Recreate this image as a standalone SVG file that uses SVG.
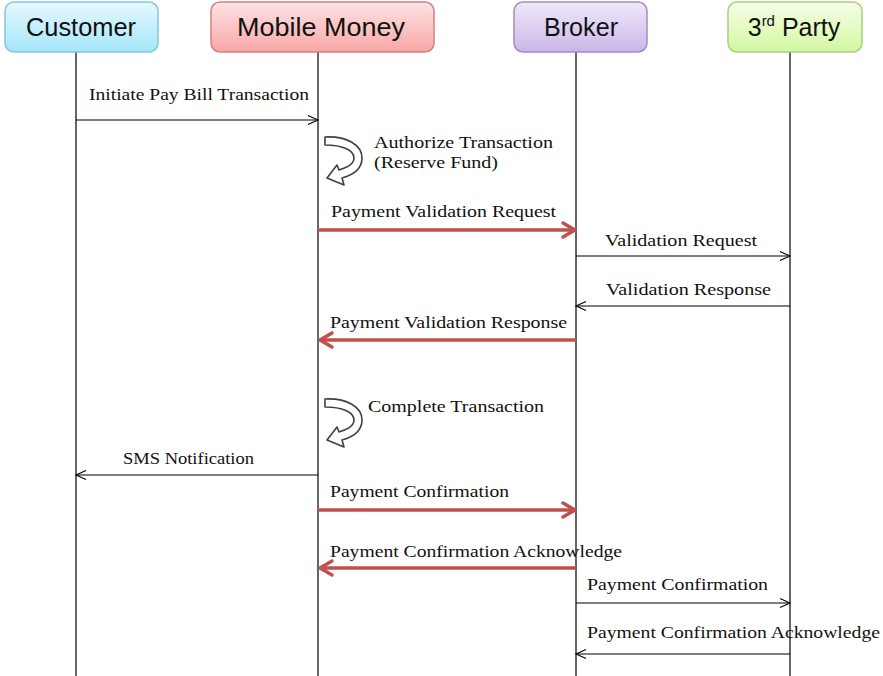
<svg xmlns="http://www.w3.org/2000/svg" width="883" height="676" viewBox="0 0 883 676">
<defs>
<linearGradient id="gC" x1="0" y1="0" x2="0" y2="1"><stop offset="0" stop-color="#e4f9ff"/><stop offset="1" stop-color="#a6e6fb"/></linearGradient>
<linearGradient id="gM" x1="0" y1="0" x2="0" y2="1"><stop offset="0" stop-color="#ffe4e4"/><stop offset="1" stop-color="#f8a6a6"/></linearGradient>
<linearGradient id="gB" x1="0" y1="0" x2="0" y2="1"><stop offset="0" stop-color="#f0e9fa"/><stop offset="1" stop-color="#cbb6e8"/></linearGradient>
<linearGradient id="gP" x1="0" y1="0" x2="0" y2="1"><stop offset="0" stop-color="#f6ffe6"/><stop offset="1" stop-color="#d4f6a2"/></linearGradient>
<marker id="ab" markerUnits="userSpaceOnUse" markerWidth="14" markerHeight="12" refX="11" refY="6" orient="auto" overflow="visible">
<path d="M1,1.5 L11,6 L1,10.5" fill="none" stroke="#000" stroke-width="1.1"/>
</marker>
<marker id="ar" markerUnits="userSpaceOnUse" markerWidth="20" markerHeight="20" refX="14" refY="9" orient="auto" overflow="visible">
<path d="M2,2 L14,9 L2,16" fill="none" stroke="#c0504d" stroke-width="3.5" stroke-linecap="round" stroke-linejoin="round"/>
</marker>
<path id="curl" d="M0,1 C22,0 37,9 37,22 C37,33 28,39 17,42 L19,49 L2,42 L12,29 L14,34 C23,31 29,28 29,22 C29,14 17,9 0,9 Z"/>
</defs>
<style>
.hd{font-family:"Liberation Sans","Open Sans",Arial,sans-serif;font-size:25px;fill:#111;text-anchor:middle}
.lb{font-family:"Liberation Serif","DejaVu Serif",serif;font-size:16px;fill:#111}
.box{stroke-width:1.5}
.life{stroke:#000;stroke-width:1.2}
.thin{stroke:#000;stroke-width:1.1;fill:none;marker-end:url(#ab)}
.red{stroke:#c0504d;stroke-width:3.5;fill:none;marker-end:url(#ar)}
.curl{fill:#fff;stroke:#404040;stroke-width:1.6;stroke-linejoin:round}
</style>
<rect width="883" height="676" fill="#fff"/>

<g id="lifelines">
<line class="life" x1="76" y1="52" x2="76" y2="676"/>
<line class="life" x1="318" y1="52" x2="318" y2="676"/>
<line class="life" x1="576" y1="52" x2="576" y2="676"/>
<line class="life" x1="790" y1="52" x2="790" y2="676"/>
</g>

<g id="customer">
<rect class="box" x="5" y="2" width="153" height="50" rx="9" fill="url(#gC)" stroke="#82c8dc"/>
<text class="hd" x="81" y="36" textLength="110" lengthAdjust="spacingAndGlyphs">Customer</text>
</g>
<g id="mobile-money">
<rect class="box" x="211" y="2" width="223" height="50" rx="9" fill="url(#gM)" stroke="#d48080"/>
<text class="hd" x="321" y="36" textLength="168" lengthAdjust="spacingAndGlyphs">Mobile Money</text>
</g>
<g id="broker">
<rect class="box" x="514" y="2" width="133" height="50" rx="9" fill="url(#gB)" stroke="#a08cc6"/>
<text class="hd" x="581" y="36" textLength="74" lengthAdjust="spacingAndGlyphs">Broker</text>
</g>
<g id="third-party">
<rect class="box" x="728" y="2" width="134" height="50" rx="9" fill="url(#gP)" stroke="#a8d080"/>
<text class="hd" x="794" y="36" style="text-anchor:middle">3<tspan font-size="15" dy="-10">rd</tspan><tspan dy="10"> Party</tspan></text>
</g>

<g id="connectors">
<line class="thin" x1="76" y1="120" x2="318" y2="120"/>
<use href="#curl" class="curl" x="325" y="136"/>
<line class="red" x1="318" y1="230" x2="575" y2="230"/>
<line class="thin" x1="576" y1="256" x2="790" y2="256"/>
<line class="thin" x1="790" y1="306" x2="576" y2="306"/>
<line class="red" x1="576" y1="340" x2="320" y2="340"/>
<use href="#curl" class="curl" x="325" y="398"/>
<line class="thin" x1="318" y1="475" x2="76" y2="475"/>
<line class="red" x1="318" y1="510" x2="575" y2="510"/>
<line class="red" x1="576" y1="568" x2="320" y2="568"/>
<line class="thin" x1="576" y1="603" x2="790" y2="603"/>
<line class="thin" x1="790" y1="654" x2="576" y2="654"/>
</g>

<g id="labels">
<text class="lb" x="89" y="100" textLength="220" lengthAdjust="spacingAndGlyphs">Initiate Pay Bill Transaction</text>
<text class="lb" x="374" y="148" textLength="179" lengthAdjust="spacingAndGlyphs">Authorize Transaction</text>
<text class="lb" x="374" y="168" textLength="124" lengthAdjust="spacingAndGlyphs">(Reserve Fund)</text>
<text class="lb" x="331" y="217" textLength="225" lengthAdjust="spacingAndGlyphs">Payment Validation Request</text>
<text class="lb" x="605" y="246" textLength="152" lengthAdjust="spacingAndGlyphs">Validation Request</text>
<text class="lb" x="606" y="295" textLength="165" lengthAdjust="spacingAndGlyphs">Validation Response</text>
<text class="lb" x="330" y="328" textLength="237" lengthAdjust="spacingAndGlyphs">Payment Validation Response</text>
<text class="lb" x="368" y="412" textLength="176" lengthAdjust="spacingAndGlyphs">Complete Transaction</text>
<text class="lb" x="123" y="464" textLength="131" lengthAdjust="spacingAndGlyphs">SMS Notification</text>
<text class="lb" x="330" y="497" textLength="179" lengthAdjust="spacingAndGlyphs">Payment Confirmation</text>
<text class="lb" x="330" y="557" textLength="292" lengthAdjust="spacingAndGlyphs">Payment Confirmation Acknowledge</text>
<text class="lb" x="587" y="590" textLength="181" lengthAdjust="spacingAndGlyphs">Payment Confirmation</text>
<text class="lb" x="587" y="638" textLength="293" lengthAdjust="spacingAndGlyphs">Payment Confirmation Acknowledge</text>
</g>
</svg>
